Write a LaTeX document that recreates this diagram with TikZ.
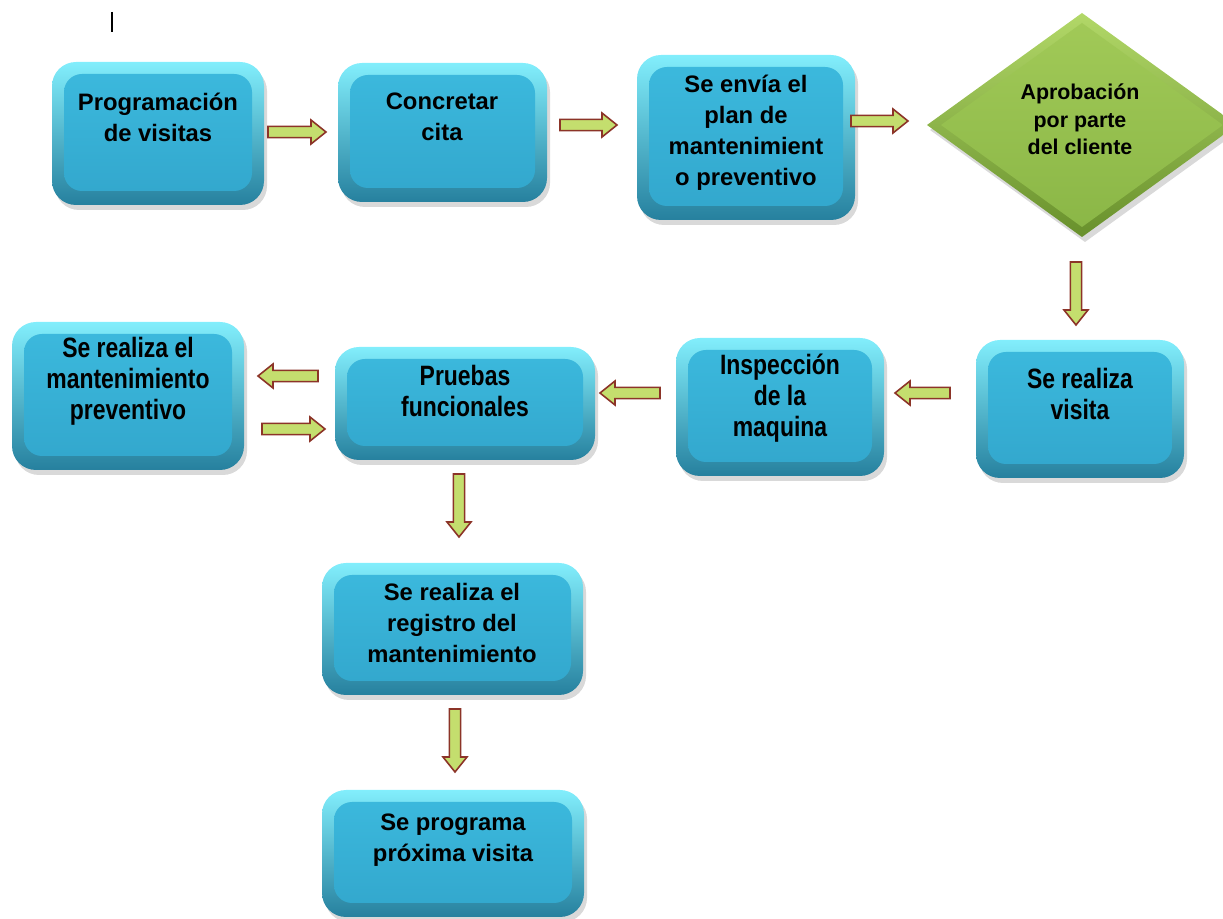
\documentclass[tikz,border=0pt]{standalone}
\usepackage{fontspec}
\setmainfont{Liberation Sans}
\newfontfamily\estrecha{Liberation Sans}[FakeStretch=0.82]
\usetikzlibrary{shapes.geometric,shadows,calc}
\definecolor{bordeclaro}{RGB}{130,238,252}
\definecolor{bordemedio}{RGB}{52,168,204}
\definecolor{bordeoscuro}{RGB}{38,128,158}
\definecolor{caraclara}{RGB}{60,186,222}
\definecolor{caraoscura}{RGB}{50,166,204}
\definecolor{rombclaro}{RGB}{178,216,104}
\definecolor{romboscuro}{RGB}{104,144,44}
\definecolor{rombcara}{RGB}{162,202,88}
\definecolor{rombcaraos}{RGB}{138,182,70}
\definecolor{verdeflecha}{RGB}{196,222,110}
\definecolor{borde}{RGB}{140,52,40}
\newcommand\flecha[2]{%
	\path (#1) coordinate (fa) (#2) coordinate (fb) ($(fb)!7.5pt!(fa)$) coordinate (fc);
	\filldraw[flechita] ($(fa)!2.8pt!90:(fb)$) -- ($(fc)!2.8pt!-90:(fa)$) -- ($(fc)!6pt!-90:(fa)$) -- (fb)
		-- ($(fc)!6pt!90:(fa)$) -- ($(fc)!2.8pt!90:(fa)$) -- ($(fa)!2.8pt!-90:(fb)$) -- cycle;
}
\begin{document}
\begin{tikzpicture}[x=0.5pt,y=-0.5pt,
	caja/.style={rectangle,rounded corners=12pt,inner sep=0,outer sep=0,
		top color=bordeclaro,middle color=bordemedio,bottom color=bordeoscuro,
		drop shadow={shadow xshift=1.5pt,shadow yshift=-2.5pt,opacity=.3},
		path picture={\shade[top color=caraclara,bottom color=caraoscura,rounded corners=9pt]
			([shift={(6pt,-6pt)}]path picture bounding box.north west) rectangle
			([shift={(-6pt,7pt)}]path picture bounding box.south east);}},
	rombo/.style={diamond,inner sep=0,outer sep=0,minimum width=155pt,minimum height=112pt,
		top color=rombclaro,bottom color=romboscuro,
		drop shadow={shadow xshift=1.5pt,shadow yshift=-2.5pt,opacity=.3},
		path picture={\shade[top color=rombcara,bottom color=rombcaraos]
			([xshift=7pt]path picture bounding box.west) -- ([yshift=-5pt]path picture bounding box.north)
			-- ([xshift=-7pt]path picture bounding box.east) -- ([yshift=5pt]path picture bounding box.south) -- cycle;}},
	texto/.style={font=\bfseries\fontsize{11.9}{15.5}\selectfont,align=center,inner sep=0},
	angosto/.style={font=\estrecha\bfseries\fontsize{14}{15.5}\selectfont,align=center,inner sep=0},
	textorombo/.style={font=\bfseries\fontsize{10.7}{13.75}\selectfont,align=center,inner sep=0},
	flechita/.style={fill=verdeflecha,draw=borde,line width=.8pt,line join=miter}]
\useasboundingbox (0,0) rectangle (1223,919);
\draw[line width=.6pt] (112,12) -- (112,32);
\node[caja,minimum width=106pt,minimum height=71.5pt] (prog) at (158,133.5) {};
\node[texto] (prog-t) at (158,117) {Programación\\de visitas};
\node[caja,minimum width=104.5pt,minimum height=69.5pt] (cita) at (442.5,132.5) {};
\node[texto] (cita-t) at (442,117) {Concretar\\cita};
\node[caja,minimum width=109pt,minimum height=82.5pt] (envio) at (746,137.5) {};
\node[texto] (envio-t) at (746,133) {Se envía el\\plan de\\mantenimient\\o preventivo};
\node[rombo] (aprob) at (1082,125) {};
\node[textorombo] (aprob-t) at (1080,119.5) {Aprobación\\por parte\\del cliente};
\node[caja,minimum width=104pt,minimum height=69pt] (visita) at (1080,409) {};
\node[angosto] (visita-t) at (1080,394) {Se realiza\\visita};
\node[caja,minimum width=104pt,minimum height=69pt] (inspec) at (780,407) {};
\node[angosto] (inspec-t) at (780,398) {Inspección\\de la\\maquina};
\node[caja,minimum width=130pt,minimum height=56.5pt] (pruebas) at (465,403.5) {};
\node[angosto] (pruebas-t) at (465,391) {Pruebas\\funcionales};
\node[caja,minimum width=116pt,minimum height=74pt] (mant) at (128,396) {};
\node[angosto] (mant-t) at (128,381) {Se realiza el\\mantenimiento\\preventivo};
\node[caja,minimum width=130.5pt,minimum height=66pt] (registro) at (452.5,629) {};
\node[texto] (registro-t) at (452,623) {Se realiza el\\registro del\\mantenimiento};
\node[caja,minimum width=131pt,minimum height=63.5pt] (proxima) at (453,853.5) {};
\node[texto] (proxima-t) at (453,840.5) {Se programa\\próxima visita};
\flecha{$(prog.east)+(4,-1.5)$}{$(cita.west)+(-12,-0.5)$}
\flecha{$(cita.east)+(13,-7.5)$}{$(envio.west)+(-20,-12.5)$}
\flecha{$(envio.east)+(-4,-16.5)$}{$(aprob.west)+(-19,-4)$}
\flecha{$(aprob.south)+(-6,25)$}{$(visita.north)+(-4,-15)$}
\flecha{$(visita.west)+(-26,-16)$}{$(inspec.east)+(11,-14)$}
\flecha{$(inspec.west)+(-16,-14)$}{$(pruebas.east)+(5,-10.5)$}
\flecha{$(pruebas.west)+(-17,-27.5)$}{$(mant.east)+(14,-20)$}
\flecha{$(mant.east)+(18,33)$}{$(pruebas.west)+(-10,25.5)$}
\flecha{$(pruebas.south)+(-6,14)$}{$(registro.north)+(6.5,-26)$}
\flecha{$(registro.south)+(2.5,14)$}{$(proxima.north)+(2,-18)$}
\end{tikzpicture}
\end{document}
